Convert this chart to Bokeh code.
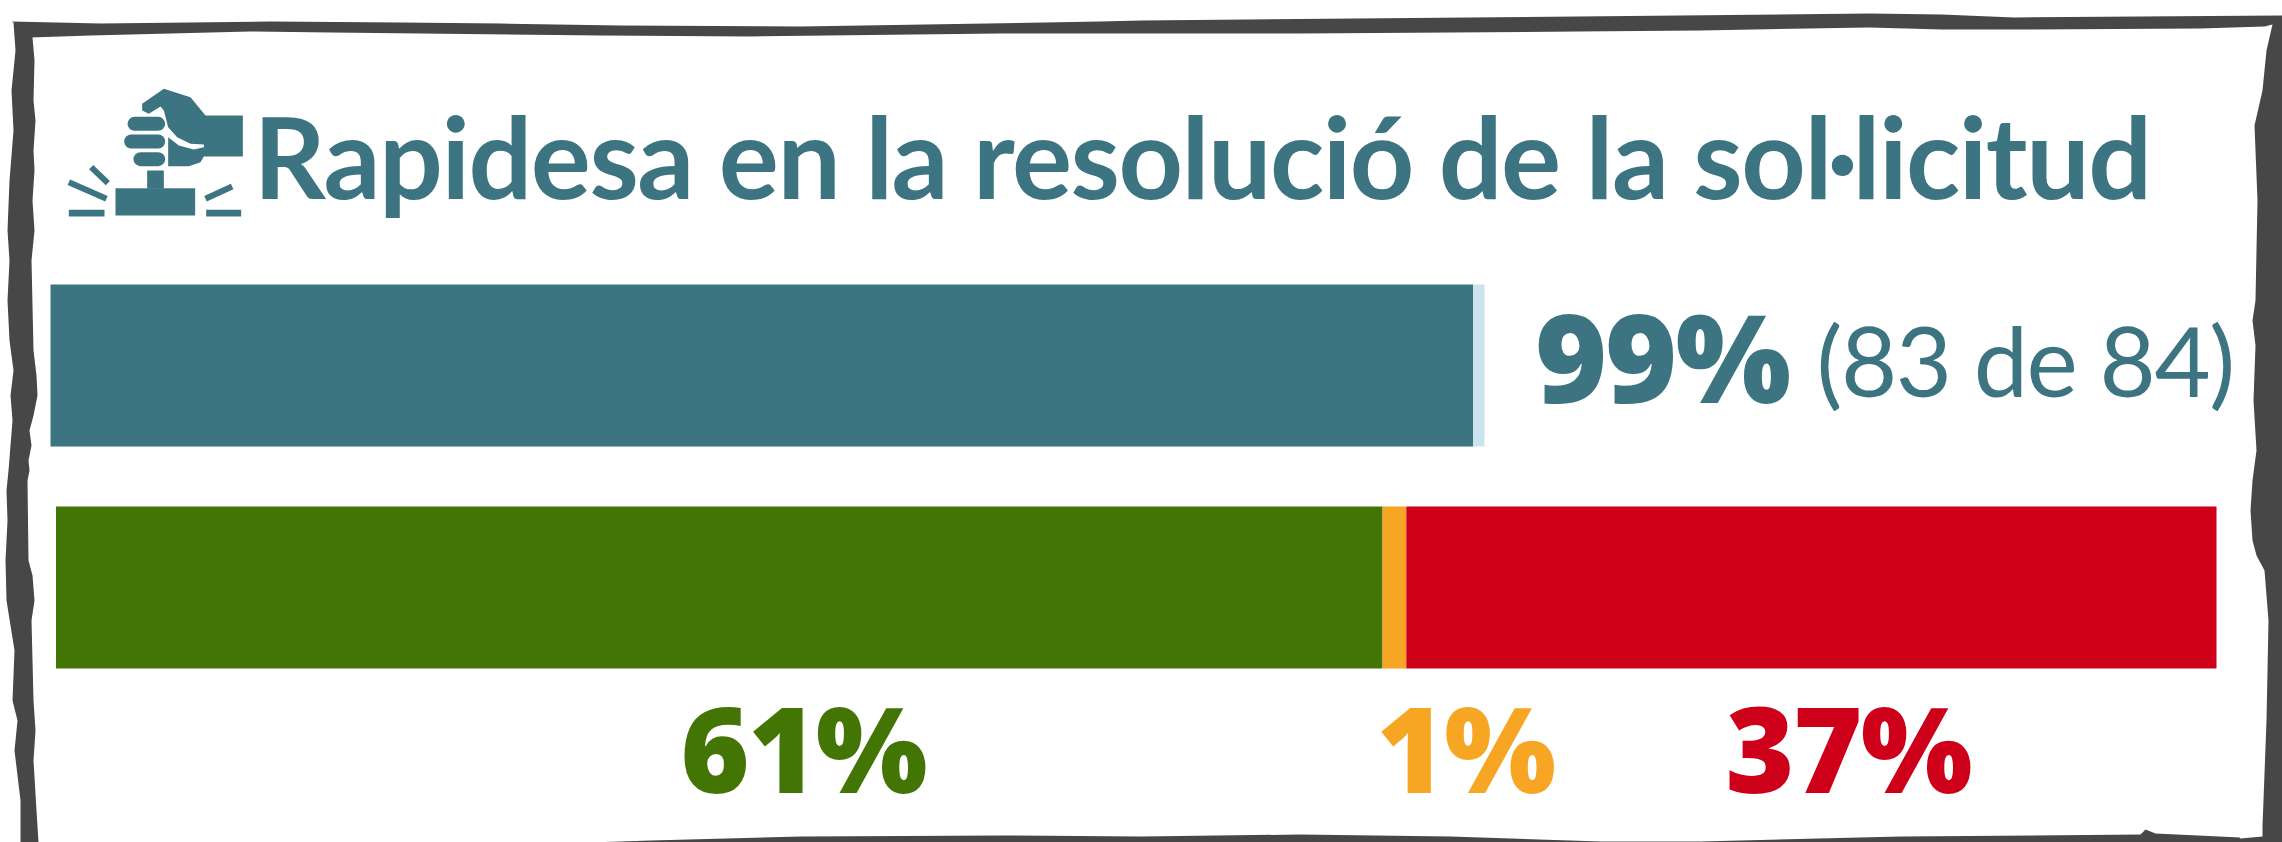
from bokeh.plotting import figure
from bokeh.models import Range1d
from bokeh.core.properties import value
from bokeh.embed import file_html
from bokeh.resources import INLINE

# ---- data
title = "Rapidesa en la resolució de la sol·licitud"
top_names = ["resoltes", "no resoltes"]
top_values = [99.2, 0.8]
top_label = "99%"
top_detail = "(83 de 84)"
split_names = ["favorable", "parcial", "desfavorable"]
split_values = [61.4, 1.1, 37.5]
split_labels = ["61%", "1%", "37%"]

TEAL, PALE = "#3D7482", "#CBE3EC"
SPLIT_COLORS = ["#437505", "#F6A623", "#CE0019"]
FRAME = "#474747"
W, H = 2282, 842

p = figure(width=W, height=H, x_range=Range1d(0, W), y_range=Range1d(H, 0),
           output_backend="svg", toolbar_location=None,
           x_axis_location=None, y_axis_location=None, min_border=0,
           outline_line_color=None, background_fill_color="white",
           border_fill_color="white", tools="")
p.grid.visible = False
p.styles = {"position": "absolute", "left": "0px", "top": "0px", "letter-spacing": "-1.5px"}

# ---- hand-drawn frame (decoration, page pixels)
frame_out_x = [11, 100, 270, 400, 500, 620, 800, 1100, 1141, 1578, 1869, 1941, 2014, 2282, 2290, 2290, 24,
               20, 20, 14, 17, 12, 14, 10, 6, 5, 7, 6, 8, 12, 10, 13, 9, 7, 9, 7, 9, 13, 11, 15, 13]
frame_out_y = [21, 23, 21, 22, 23, 25, 26, 21, 20, 16, 13, 14, 17, 15, 15, 850, 850,
               842, 800, 750, 720, 700, 650, 625, 600, 560, 520, 490, 470, 420, 395, 370, 340, 300, 260, 230, 180, 130, 90, 50, 22]
frame_in_x = [30, 90, 250, 330, 600, 750, 1000, 1141, 1300, 1578, 1700, 1869, 1941, 2014, 2200, 2264,
              2272, 2266, 2262, 2254, 2257, 2255, 2252, 2255, 2253, 2256, 2252, 2250, 2252, 2256, 2264, 2268, 2266, 2263, 2262, 2262,
              2240, 2226, 2233, 2255, 2240, 2155, 2145, 2140, 1900, 1700, 1600, 1450, 1300, 1141, 1000,
              800, 650, 500, 38, 36, 33, 35, 33, 31, 34, 32, 28, 27, 29, 28, 31, 29, 33, 37, 36, 33, 31, 34, 32, 34, 33, 35, 33, 34, 32]
frame_in_y = [37, 35, 31, 32, 35, 36, 33, 33, 33, 31, 30, 27, 29, 29, 28, 26,
              24, 50, 90, 125, 200, 300, 320, 345, 400, 450, 480, 510, 540, 555, 570, 620, 720, 800, 825, 836,
              838, 826, 824, 836, 837, 833, 829, 834, 836, 841, 841, 836, 834, 836, 835,
              836, 840, 845, 842, 810, 760, 730, 700, 620, 600, 575, 560, 480, 470, 460, 445, 430, 415, 395, 375, 350, 260, 230, 200, 170, 150, 120, 100, 60, 37]
p.patch(frame_out_x, frame_out_y, fill_color=FRAME, line_color=None)
p.patch(frame_in_x, frame_in_y, fill_color="white", line_color=None)

# Percent scales of the two bars, laid over the page's pixel space
def pct_range(x0, x1):
    k = 100 / (x1 - x0)
    return Range1d((0 - x0) * k, (W - x0) * k)
p.extra_x_ranges = {"top": pct_range(50, 1484), "split": pct_range(55.5, 2216)}

def stack(vals):
    left, out = 0, []
    for v in vals:
        out.append((left, left + v))
        left += v
    return out

tops = stack(top_values)
p.hbar(y=365, height=162, left=[a for a, _ in tops], right=[b for _, b in tops],
       fill_color=[TEAL, PALE], line_color=None, x_range_name="top")
sp = stack(split_values)
p.hbar(y=587, height=162, left=[a for a, _ in sp], right=[b for _, b in sp],
       fill_color=SPLIT_COLORS, line_color=None, x_range_name="split")

# ---- texts
def txt(x, baseline, s, color, size, font, style="normal"):
    p.text(x=[x], y=[baseline - 0.4 * size], text=[s], text_color=color, text_font=value(font),
           text_font_size=f"{size}px", text_font_style=style, text_align="left",
           text_baseline="alphabetic")

txt(253, 200, title, TEAL, 112.5, "Lato", "bold")
txt(1535, 404, top_label, TEAL, 122, "Open Sans ExtraBold", "bold")
txt(1816, 398, top_detail, TEAL, 97, "Lato")
for s, x, c in zip(split_labels, [680, 1376, 1725], SPLIT_COLORS):
    txt(x, 794, s, c, 118, "Open Sans ExtraBold", "bold")

# ---- stamp icon (decoration, drawn in the crop's 3x units)
def t(seq):
    return [v / 3 for v in seq]
p.patch(t([425, 490, 570, 615, 727, 727, 610, 600, 565, 503, 503, 535, 580, 610, 610, 570, 530, 503, 490, 480, 445, 425]),
        t([310, 265, 290, 345, 345, 468, 468, 485, 497, 497, 410, 435, 447, 440, 432, 430, 410, 380, 330, 318, 340, 330]),
        fill_color=TEAL, line_color=None)
p.multi_line([t([402, 473]), t([392, 473]), t([420, 473])],
             [t([370, 370]), t([423, 423]), t([476, 476])],
             line_color=TEAL, line_width=14, line_cap="round")
p.quad(left=t([440, 345, 205, 617]), right=t([490, 584, 312, 722]),
       top=t([510, 563, 628, 628]), bottom=t([565, 645, 648, 648]),
       fill_color=TEAL, line_color=None)
p.multi_line([t([272, 322]), t([205, 318]), t([615, 695])],
             [t([500, 548]), t([545, 595]), t([595, 558])],
             line_color=TEAL, line_width=6)

open("out.html", "w").write(file_html(p, INLINE))
